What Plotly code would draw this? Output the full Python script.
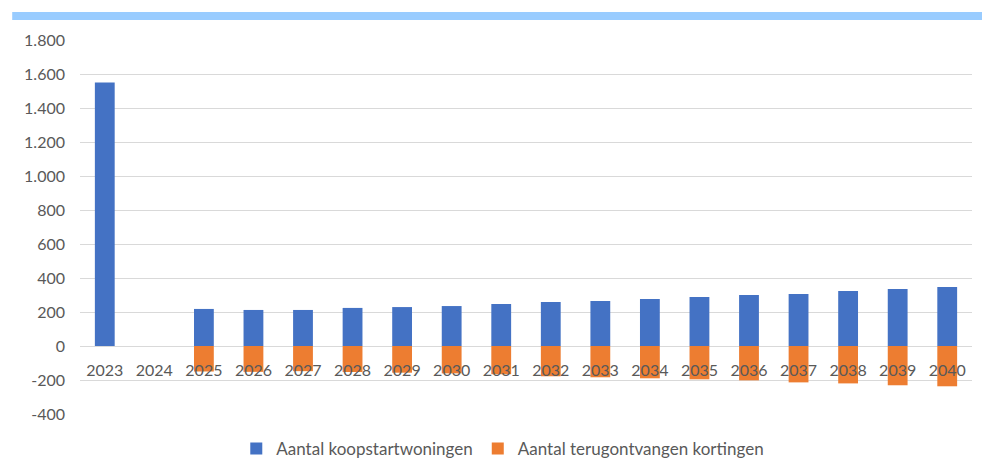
import plotly.graph_objects as go

years = [str(y) for y in range(2023, 2041)]
koopstart = [1550, None, 218, 212, 212, 224, 229, 235, 247, 259, 265, 276, 288, 300, 306, 324, 335, 347]
kortingen = [None, None, -150, -152, -148, -153, -157, -161, -166, -178, -184, -190, -196, -202, -214, -220, -231, -237]
y_ticks = [-400, -200, 0, 200, 400, 600, 800, 1000, 1200, 1400, 1600, 1800]
y_min, y_max = -400, 1800


def fmt(v):
    s = f"{abs(v):,}".replace(",", ".")
    return ("-" if v < 0 else "") + s


fig = go.Figure()
fig.add_trace(go.Bar(x=years, y=koopstart, name="Aantal koopstartwoningen",
                     marker=dict(color="#4472C4", line=dict(width=0))))
fig.add_trace(go.Bar(x=years, y=kortingen, name="Aantal terugontvangen kortingen",
                     marker=dict(color="#ED7D31", line=dict(width=0))))

zero_pos = (0 - y_min) / (y_max - y_min)

fig.update_layout(
    width=982, height=459,
    barmode="relative", bargap=0.6,
    plot_bgcolor="white", paper_bgcolor="white",
    font=dict(family="Lato, Carlito, sans-serif", size=16, color="#595959"),
    margin=dict(l=80, r=10, t=40, b=45, autoexpand=False),
    showlegend=True,
    legend=dict(orientation="h", x=0.512, xanchor="center", xref="container",
                y=0.022, yanchor="middle", yref="container",
                font=dict(size=17, color="#595959"), itemwidth=30,
                traceorder="normal"),
    xaxis=dict(type="category", anchor="free", position=zero_pos,
               showline=False, showgrid=False, ticks="", tickfont=dict(size=16, color="#595959"),
               ticklabelstandoff=13),
    yaxis=dict(range=[y_min, y_max], tickvals=y_ticks, ticktext=[fmt(v) for v in y_ticks],
               showgrid=True, gridcolor="#D9D9D9", gridwidth=1,
               zeroline=True, zerolinecolor="#D9D9D9", zerolinewidth=1,
               showline=False, ticks="", ticklabelstandoff=14,
               tickfont=dict(size=16, color="#595959")),
    shapes=[dict(type="rect", xref="paper", yref="paper",
                 x0=-0.076, x1=1.02, y0=(459 - 45 - 20) / (459 - 85), y1=(459 - 45 - 12) / (459 - 85),
                 fillcolor="#99CCFF", line=dict(width=0), layer="above")],
)

fig.write_html("out.html")
